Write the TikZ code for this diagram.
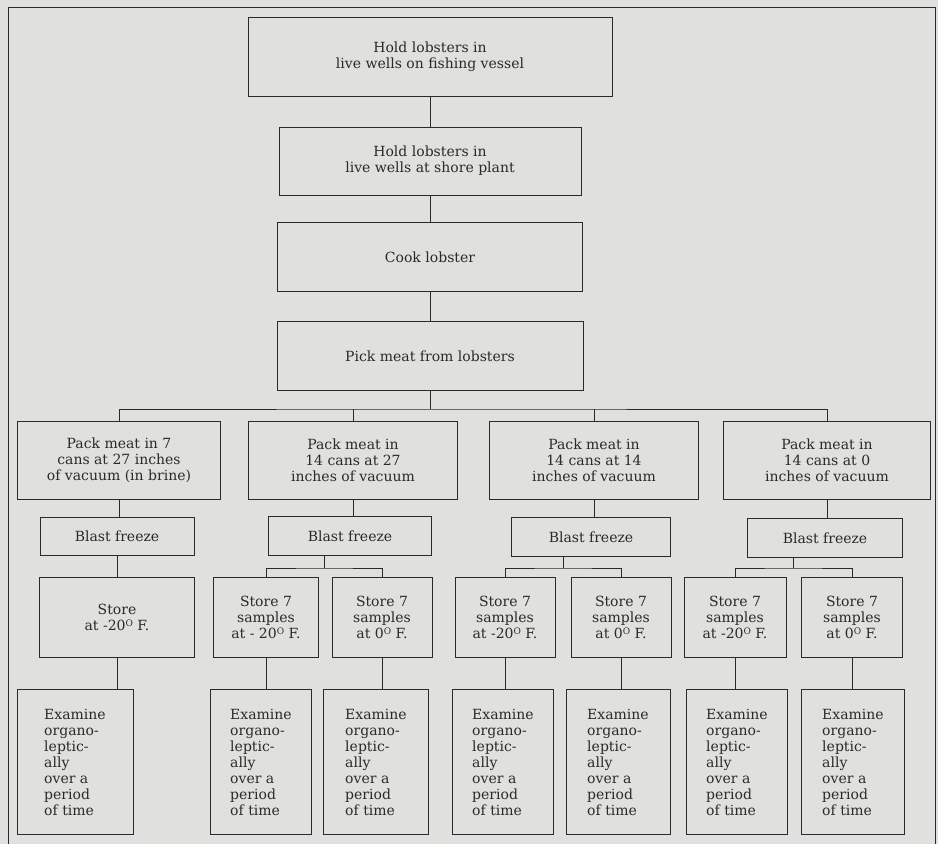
\documentclass[tikz,border=0pt]{standalone}
\usepackage{fontspec}
\setmainfont{DejaVu Serif}
\usepackage{tikz}
\usepackage{xcolor}
\definecolor{paper}{RGB}{224,224,222}
\definecolor{ink}{RGB}{42,42,42}
\newcommand{\degO}{\raisebox{0.45ex}{\fontsize{9}{9}\selectfont O}}
\tikzstyle{box}=[draw=ink, line width=1pt, text=ink, inner sep=2pt, font=\fontsize{14}{16}\selectfont, align=center]
\tikzstyle{exam}=[box, align=left, minimum height=145]
\tikzstyle{wire}=[draw=ink, line width=1pt]

\begin{document}
\begin{tikzpicture}[x=1pt, y=-1pt]
        % Page and open frame
        \useasboundingbox (0,0) rectangle (938,844);
        \fill[paper] (0,0) rectangle (938,844);
        \draw[wire] (8,844) -- (8,7) -- (935,7) -- (935,844);

        % Main line of steps
        \node (h1) at (430,57) [box, minimum width=364, minimum height=79] {Hold lobsters in\\live wells on fishing vessel};
        \node (h2) at (430,161) [box, minimum width=302, minimum height=68] {Hold lobsters in\\live wells at shore plant};
        \node (ck) at (430,257) [box, minimum width=305, minimum height=69] {Cook lobster};
        \node (pk) at (430,356) [box, minimum width=306, minimum height=69] {Pick meat from lobsters};

        \draw[wire] (h1) -- (h2) -- (ck) -- (pk);

        % Four packs
        \node (p1) at (119,460) [box, minimum width=203, minimum height=78] {Pack meat in 7\\cans at 27 inches\\of vacuum (in brine)};
        \node (p2) at (353,460) [box, minimum width=209, minimum height=78] {Pack meat in\\14 cans at 27\\inches of vacuum};
        \node (p3) at (594,460) [box, minimum width=209, minimum height=78] {Pack meat in\\14 cans at 14\\inches of vacuum};
        \node (p4) at (827,460) [box, minimum width=207, minimum height=78] {Pack meat in\\14 cans at 0\\inches of vacuum};

        \coordinate (bus) at (430,409);
        \draw[wire] (pk) -- (bus);
        \draw[wire] (p1.north) |- (bus) -| (p4.north);
        \draw[wire] (p2.north) -- (p2.north |- bus);
        \draw[wire] (p3.north) -- (p3.north |- bus);

        % Blast freeze
        \node (f1) at (117,536) [box, minimum width=154, minimum height=38] {Blast freeze};
        \node (f2) at (350,536) [box, minimum width=163, minimum height=39] {Blast freeze};
        \node (f3) at (591,537) [box, minimum width=159, minimum height=39] {Blast freeze};
        \node (f4) at (825,538) [box, minimum width=155, minimum height=39] {Blast freeze};

        \draw[wire] (p1) -- (p1 |- f1.north);
        \draw[wire] (p2) -- (p2 |- f2.north);
        \draw[wire] (p3) -- (p3 |- f3.north);
        \draw[wire] (p4) -- (p4 |- f4.north);

        % Storage
        \node (s1) at (117,617) [box, minimum width=155, minimum height=80] {Store\\at -20\degO{} F.};
        \node (s2a) at (266,617) [box, minimum width=105, minimum height=80] {Store 7\\samples\\at - 20\degO{} F.};
        \node (s2b) at (382,617) [box, minimum width=100, minimum height=80] {Store 7\\samples\\at 0\degO{} F.};
        \node (s3a) at (505,617) [box, minimum width=100, minimum height=80] {Store 7\\samples\\at -20\degO{} F.};
        \node (s3b) at (621,617) [box, minimum width=100, minimum height=80] {Store 7\\samples\\at 0\degO{} F.};
        \node (s4a) at (735,617) [box, minimum width=102, minimum height=80] {Store 7\\samples\\at -20\degO{} F.};
        \node (s4b) at (852,617) [box, minimum width=101, minimum height=80] {Store 7\\samples\\at 0\degO{} F.};

        \draw[wire] (f1) -- (f1 |- s1.north);

        \coordinate (j2) at (324,568);
        \coordinate (j3) at (563,568);
        \coordinate (j4) at (793,568);
        \draw[wire] (f2.south -| j2) -- (j2);
        \draw[wire] (f3.south -| j3) -- (j3);
        \draw[wire] (f4.south -| j4) -- (j4);
        \draw[wire] (s2a.north) |- (j2) -| (s2b.north);
        \draw[wire] (s3a.north) |- (j3) -| (s3b.north);
        \draw[wire] (s4a.north) |- (j4) -| (s4b.north);

        % Examination
        \node (e1) at (75,762) [exam, minimum width=116] {Examine\\organo-\\leptic-\\ally\\over a\\period\\of time};
        \node (e2a) at (261,762) [exam, minimum width=101] {Examine\\organo-\\leptic-\\ally\\over a\\period\\of time};
        \node (e2b) at (376,762) [exam, minimum width=105] {Examine\\organo-\\leptic-\\ally\\over a\\period\\of time};
        \node (e3a) at (503,762) [exam, minimum width=101] {Examine\\organo-\\leptic-\\ally\\over a\\period\\of time};
        \node (e3b) at (618,762) [exam, minimum width=104] {Examine\\organo-\\leptic-\\ally\\over a\\period\\of time};
        \node (e4a) at (737,762) [exam, minimum width=101] {Examine\\organo-\\leptic-\\ally\\over a\\period\\of time};
        \node (e4b) at (853,762) [exam, minimum width=103] {Examine\\organo-\\leptic-\\ally\\over a\\period\\of time};

        \draw[wire] (s1) -- (s1 |- e1.north);
        \draw[wire] (s2a) -- (s2a |- e2a.north);
        \draw[wire] (s2b) -- (s2b |- e2b.north);
        \draw[wire] (s3a) -- (s3a |- e3a.north);
        \draw[wire] (s3b) -- (s3b |- e3b.north);
        \draw[wire] (s4a) -- (s4a |- e4a.north);
        \draw[wire] (s4b) -- (s4b |- e4b.north);
\end{tikzpicture}
\end{document}
